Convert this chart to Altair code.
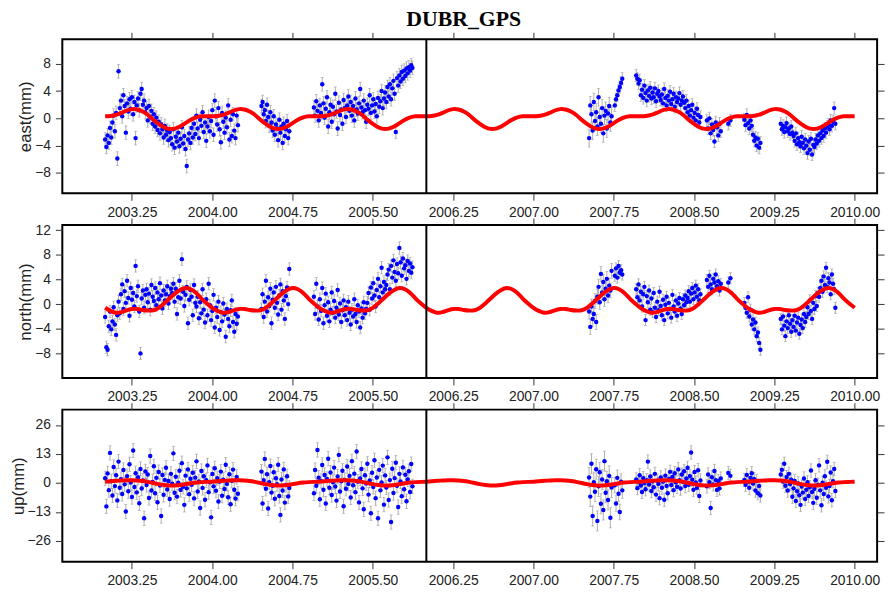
import altair as alt
import numpy as np
import pandas as pd

TITLE = "DUBR_GPS"
X_TICKS = [2003.25, 2004.00, 2004.75, 2005.50, 2006.25, 2007.00, 2007.75, 2008.50, 2009.25, 2010.00]
X_DOMAIN = [2002.60, 2010.21]
BREAK_EPOCH = [2006.0]

# observation segments (start, end) in decimal years
SEGMENTS = [(2003.00, 2004.24), (2004.46, 2004.72), (2004.95, 2005.87), (2007.52, 2007.73),
            (2007.76, 2007.83), (2007.96, 2008.56), (2008.62, 2008.75), (2008.82, 2008.84),
            (2008.97, 2009.12), (2009.31, 2009.82)]

# ---------------- EAST (mm) ----------------
EAST = [
    [-3.1, -4.2, -2.5, -3.6, -1.4, -2.8, -0.6, 0.4, -1.9, 0.8,
     -5.9, 6.9, 1.5, 2.6, 0.3, 3.4, 1.8, -2.1, 2.2, 1.0,
     2.8, 1.4, 3.1, 0.6, 2.4, -2.9, 1.9, 2.9, 1.2, 3.6,
     4.3, 2.0, 2.6, 0.9, 1.5, -0.3, 1.8, 0.2, 1.1, -0.8,
     0.6, -1.2, 0.1, -1.7, -0.5, -2.2, -0.9, -1.6, -2.8, -1.1,
     -2.4, -1.8, -3.2, -2.0, -2.9, -3.8, -1.6, -4.3, -2.7, -3.4,
     -2.1, -4.1, -3.0, -1.3, -3.7, -2.6, -4.5, -7.0, -3.1, -2.2,
     -3.6, -1.4, -2.8, -0.8, -2.3, 0.4, -1.5, -2.9, -0.2, -1.1,
     0.9, -2.0, -0.6, -3.3, -1.2, 0.2, -1.9, -0.4, 1.2, -2.4,
     2.6, 0.3, -0.9, 1.5, -1.6, -3.5, 0.8, -0.5, -2.1, 0.1,
     -1.3, 1.9, -3.1, -0.2, -2.6, 0.6, -1.8, -2.9, 0.4, -1.0],
    [1.8, 2.4, 0.6, 1.2, -0.4, 2.0, 0.2, -1.1, 0.9, -0.6, -1.8, 0.3, -2.4, -0.9, -1.5,
     -3.2, -0.2, -2.1, -1.2, -3.6, -0.8, -2.6, -1.6, -0.4, -2.9, -1.9],
    [1.6, 0.4, 2.5, 1.1, -0.3, 1.9, 0.8, 5.0, 2.2, 0.1,
     1.4, 3.1, -1.2, 0.9, 2.0, -0.5, 1.7, 0.6, 3.6, 1.0,
     -1.5, 2.3, 0.5, 1.3, -0.8, 2.7, 1.5, 0.2, 1.9, 3.2,
     1.1, 2.4, 0.4, 1.8, -0.3, 2.9, 1.3, 0.7, 2.2, 4.3,
     1.6, 0.9, 2.6, 1.2, -0.5, 2.0, 1.4, 3.4, 0.8, 1.9,
     2.8, 1.0, 2.1, 0.3, 3.0, 1.7, 2.5, 4.0, 1.5, 2.9,
     3.8, 2.4, 4.6, 3.2, 5.0, 2.8, 4.4, 5.5, 3.6, -2.0,
     5.9, 4.8, 6.3, 5.4, 6.8, 5.8, 7.0, 6.2, 7.3, 6.6,
     7.5, 7.0, 7.8, 7.4],
    [-2.9, 1.9, 0.6, -1.8, 2.4, -0.4, 0.9, -1.2, 3.1, 0.2, -0.8, 1.5, -2.2, 0.4, 1.1,
     -1.5, 0.7, 1.8, -0.6, 0.3],
    [1.9, 2.8, 3.4, 4.1, 4.6, 5.2, 5.8],
    [6.3, 5.8, 5.1, 5.6,
     3.4, 4.2, 3.0, 4.8, 3.7, 2.6, 4.1, 3.3, 4.5, 2.9, 3.8, 3.1, 4.4, 2.5, 3.6, 4.0, 3.2,
     2.7, 3.5, 2.2, 4.3, 3.0, 1.9, 3.3, 2.6, 3.9, 2.1, 2.8, 3.6, 1.7, 3.1, 2.4, 2.9, 3.7, 2.0, 2.6, 3.2,
     2.3, 1.5, 2.6, 0.9, 1.8, 0.4, 1.2, 2.0, 0.1, 0.8, -0.3, 1.4, 0.5, -0.6, 0.2],
    [-0.3, -1.5, 0.0, -2.2, -0.9, -1.7, -3.4, -0.6, -1.3, -2.5, -0.8, -1.9],
    [-0.8, -0.3],
    [-0.2, -1.0, 0.5, -0.7, -1.5, -0.3, -1.1, -2.4, -3.3, -2.8, -4.0, -3.0, -4.3, -3.6],
    [-0.8, -1.6, -1.1, -2.0, -1.3, -0.7, -1.9, -1.5, -2.3, -1.2, -2.1,
     -2.6, -3.3, -2.2, -3.8, -2.9, -3.5, -4.1, -2.7, -3.6, -4.4, -3.1, -4.0, -5.1, -3.4, -4.6, -3.0, -5.3, -3.9,
     -4.2, -3.1, -3.7, -2.5, -3.3, -2.2, -2.9, -1.8, -2.6, -1.5, -2.1, -1.2,
     -0.9, -1.6, -0.3, -1.1, -0.5, 1.5, -0.8],
]
EAST_SIGMA = [1.0, 1.0, 1.0, 1.3, 0.9, 0.9, 0.9, 0.9, 0.9, 0.9]

# ---------------- NORTH (mm) ----------------
NORTH = [
    [-2.1, -7.0, -7.4, -3.6, -1.2, -4.1, -2.8, -0.5, -3.3, -5.0, -1.8,
     0.4, -1.5, 1.6, 3.2, -0.8, 2.1, 0.2, 3.8, 1.0, -1.9, 2.6, 0.7, 1.8, -0.4, 6.2,
     1.3, 2.9, -1.2, -8.0, 0.9, 2.2, -0.6, 1.5,
     2.4, 0.3, 1.7, -0.9, 3.1, 1.2, 0.5, 2.6, -0.2, 1.9, 0.8, 3.4, 1.4, -0.7, 2.2, 0.6,
     1.6, 2.9, 0.1, 1.3, 2.5,
     1.8, 3.3, 0.4, 2.5, -1.6, 1.1, 3.8, 0.9, 7.3, 2.0, -0.3, 1.5, 2.8, -3.1, 0.7, 2.3,
     1.2, -1.8, 3.1, 0.2,
     -0.4, 1.2, -2.3, 0.3, -1.5, 2.4, -0.9, -3.0, 0.8, -1.8, 3.3, -0.2, -2.6, -1.1, 1.5,
     -3.8, -0.6, -2.1, 0.4, -4.2, -1.3, -2.8, 0.1, -1.7, -5.3, -0.8, -2.4, -3.6, -1.0, 0.6,
     -2.9, -4.5, -1.6, -3.2, -2.0],
    [-0.8, 1.6, -2.1, 0.4, 3.8, -1.2, 1.1, -0.3, 2.5, -3.1, 0.7, 1.9, -0.6, 2.8, 0.2,
     -1.7, 1.4, 3.2, -0.9, 2.1, 0.6, -2.4, 1.3, 2.7, 0.0, 5.7],
    [1.2, -1.6, 3.3, -0.4, -2.5, 0.8, -1.1, 2.6, -3.1, -0.2, 1.7, -1.9, 0.3, -2.8, -0.9,
     1.9, -1.4, 0.5, -2.2, -0.6, 2.3, -1.7, 0.1, -2.9, -1.0, 0.6,
     -1.8, -0.5, -2.6, 0.4, -1.4, -3.3, -0.9, -2.0, 0.8, -1.6, -2.9, -0.2, -1.2, -3.8, -0.7,
     -2.2, 0.3, -1.5, -0.8,
     0.2, 1.8, -0.9, 2.7, 0.9, 3.4, 1.4, -0.4, 2.3, 4.1, 1.1, 2.9, 5.9, 1.9, 3.6, 2.4,
     3.1, 4.8, 5.6, 2.4, 6.2, 4.3, 7.1, 5.2, 3.8, 6.5, 5.0, 9.1, 6.8, 4.6, 7.4, 5.8, 6.3,
     4.1, 7.0, 5.4, 6.6, 5.1, 6.0],
    [-1.2, -3.7, -0.4, -2.4, -1.6, 0.5, -2.9, 1.2, 2.8, 0.3, 4.9, 1.9, 3.6, 0.8, 2.5,
     4.1, 1.4, 3.0, 2.2, 5.4],
    [4.6, 5.8, 4.3, 6.2, 5.1, 5.5, 4.8],
    [2.4, 1.1, 3.2, 0.6, 2.0, -0.4, 1.6, 2.8, -2.6, 1.3, 0.3, 2.2, -0.9,
     0.9, -1.3, 1.8, -0.6, -2.1, 0.4, -1.0, 2.0, -0.3, -1.8, 0.7, -2.6, -0.1, 1.2, -1.5,
     0.2, -0.8, -2.2, 1.5, -0.4, -1.2, 0.6, -1.9, 0.1, 1.0, -0.7, -1.6, 0.8, -0.2, 1.4, 0.3,
     1.0, 2.1, 0.4, 1.7, 2.6, 0.8, 1.9, 3.0, 1.2, 2.4, 0.6, 1.6],
    [3.9, 2.8, 4.6, 3.2, 2.4, 4.1, 3.5, 4.8, 2.9, 3.7, 2.2, 3.3],
    [3.5, 4.2],
    [0.2, -0.6, -1.4, 1.1, -2.0, -0.9, -3.3, -2.5, -4.1, -3.0, -5.2, -4.6, -6.3, -7.4],
    [-2.4, -4.1, -2.0, -3.5, -5.2, -2.8, -3.9, -1.8, -3.2, -4.5, -2.6, -3.7, -1.9, -4.3,
     -3.0, -2.2, -4.8, -3.4, -2.5, -3.9, -1.6, -2.9,
     -2.1, -0.5, -1.6, 0.6, -1.1, -2.4, 0.2, -0.8, 1.3, -0.3, 1.8,
     1.2, 2.6, 3.8, 2.0, 4.5, 3.1, 5.9, 2.8, 4.2, 3.5, 1.6, 4.8, 3.3, 2.4, -0.6],
]
NORTH_SIGMA = [1.0, 1.0, 1.0, 1.2, 0.9, 0.9, 0.9, 0.9, 0.9, 0.9]

# ---------------- UP (mm) ----------------
UP = [
    [2.1, -10.5, 4.3, -3.2, 13.5, 0.8, -5.6, 7.2, -1.4, 3.5,
     -7.8, 9.6, -2.1, 1.7, -4.9, 5.8, -0.6, -12.8, 3.1, -3.7,
     8.4, 0.2, -6.3, 14.6, -1.8, 4.4, -4.2, 2.6, -9.1, 6.3,
     -2.5, 1.1, -15.8, 5.2, -0.9, 3.8, -6.7, 12.1, -3.4, 0.5,
     7.5, -4.6, 2.3, -8.6, 4.9, -1.1, -14.8, 3.6, -5.3, 1.4,
     6.8, -2.9, 0.9, -7.2, 4.1, -0.3, 13.3, -4.4, 2.8, -6.1,
     0.1, 5.5, -3.1, 8.9, -1.7, -9.8, 3.3, -2.4, 6.1, -5.0,
     1.9, -0.8, 4.6, -6.9, 2.4, 9.7, -3.8, 0.7, -11.2, 5.4,
     -2.2, 3.0, -7.5, 1.2, 7.9, -4.1, 0.3, -15.4, 4.0, -1.5,
     6.6, -3.5, 2.2, -8.3, 0.6, 5.1, -5.7, 1.5, -2.7, 8.2,
     -0.4, -6.4, 3.9, -9.5, 1.0, 6.0, -3.0, -7.0, 2.7, -4.8],
    [5.1, -9.2, 1.3, 10.8, -2.6, 3.9, -11.4, 0.4, 7.6, -4.3, -1.2, 4.8, -7.1, 2.1, -0.5,
     8.2, -5.8, -14.3, 1.6, -3.4, 6.1, -8.8, -0.9, 3.0, -6.0, -2.2],
    [-4.6, 5.8, -1.2, 14.8, 2.4, -7.3, 0.9, 8.1, -3.0, 3.6,
     -9.2, 1.8, 10.9, -2.1, 4.7, -5.4, 0.3, 6.9, -1.6, -7.9,
     2.9, 12.6, -3.8, 0.8, 5.5, -10.4, 1.4, -2.6, 7.4, -0.4,
     3.2, -6.5, 9.8, -1.0, 4.2, -4.1, 14.1, 0.6, -8.7, 2.0,
     6.3, -2.4, -11.8, 3.5, -0.2, 8.6, -5.2, 1.1, -13.6, 4.6,
     -1.8, 10.2, -6.8, 2.5, -15.8, 5.9, -3.3, 0.2, 7.8, -9.7,
     3.4, -2.0, 11.5, -7.6, 1.3, -17.5, 6.4, -4.5, 2.2, 9.1,
     -1.2, -10.8, 4.1, 0.7, -5.9, 7.0, -2.8, 3.7, -8.2, 1.6,
     5.3, -4.0, 8.5, -1.5],
    [2.5, -6.1, 8.6, -14.8, 0.4, -3.9, 6.2, -17.0, -1.5, 4.8, -9.3, 1.6, -12.1, 9.8, -4.4,
     0.8, -7.6, 3.2, -15.6, -2.0],
    [-1.0, -9.2, 2.3, -4.8, -13.0, 0.6, -3.3],
    [1.6, -2.3, 0.4, 3.5, -1.1, -4.0, 2.2, 0.0, -2.8, 1.3,
     9.6, -0.7, 2.9, -3.6, 0.8, -1.9, 4.1, -5.2, 1.0, -0.4,
     -6.8, 2.5, -2.1, 0.6, -7.5, 3.3, -1.3, -4.6, 1.8, 5.0,
     -0.9, 2.7, -3.2, 4.4, 0.3, -1.7, 6.1, 1.2, -2.5, 3.8,
     0.5, 5.3, -1.4, 2.0, 6.8, -0.8, 3.1, 13.7, 1.5, -3.0,
     4.9, 0.2, -2.2, 5.7, -5.8, 1.1],
    [-1.5, 3.8, 0.4, -11.2, 2.6, -0.6, 5.4, 1.3, -3.1, 0.8, -2.4, 2.0],
    [4.5, 3.2],
    [1.4, -0.8, 3.6, 0.5, -2.1, 2.3, 4.4, -0.2, 1.7, -3.4, 0.9, -4.6, -1.3, -5.6],
    [3.8, 5.9, 0.6, 8.6, -1.2, 2.7, -3.4, 4.1, -0.5, 1.5,
     -6.2, -2.4, 0.9, -8.1, -3.7, -0.2, -5.5, -9.8, -1.6, -4.3,
     2.0, -7.2, -3.0, 0.4, -5.8, -1.9, 5.6, -4.0, -8.9, -2.6,
     1.2, -6.6, -0.8, 7.9, -3.3, -10.0, 0.1, -4.9, 3.0, -2.1,
     9.5, -6.0, -1.4, 4.7, -7.7, 0.8, 6.3, -3.6],
]
UP_SIGMA = [3.2, 3.2, 3.2, 4.5, 3.5, 3.0, 3.0, 3.0, 3.0, 3.0]

# seasonal model, one-year profile read every 0.05 yr, drawn for 2003..2010
MODEL_YEARS = [2003, 2004, 2005, 2006, 2007, 2008, 2009]
PHASE = [0.00, 0.05, 0.10, 0.15, 0.20, 0.25, 0.30, 0.35, 0.40, 0.45,
         0.50, 0.55, 0.60, 0.65, 0.70, 0.75, 0.80, 0.85, 0.90, 0.95]
EAST_MODEL = [0.30, 0.35, 0.50, 0.80, 1.15, 1.35, 1.30, 1.00, 0.50, -0.20,
              -0.80, -1.30, -1.55, -1.50, -1.20, -0.70, -0.20, 0.15, 0.30, 0.30]
NORTH_MODEL = [-0.60, -1.10, -1.40, -1.30, -1.00, -0.80, -0.80, -0.95, -1.05, -1.00,
               -0.60, 0.10, 0.90, 1.70, 2.30, 2.60, 2.40, 1.80, 0.90, 0.10]
UP_MODEL = [0.60, 0.80, 1.00, 1.10, 1.20, 1.20, 1.10, 0.90, 0.50, 0.00,
            -0.50, -0.90, -1.10, -1.10, -0.90, -0.50, -0.10, 0.20, 0.40, 0.50]


def obs_frame(series, sigma):
    rows = []
    for (s, e), vals, sg in zip(SEGMENTS, series, sigma):
        ts = np.linspace(s, e, len(vals))
        for t, v in zip(ts, vals):
            rows.append({"t": float(t), "v": v, "lo": v - sg, "hi": v + sg})
    return pd.DataFrame(rows)


def model_frame(profile):
    rows = []
    for y in MODEL_YEARS:
        for p, v in zip(PHASE, profile):
            rows.append({"t": y + p, "v": v})
    rows.append({"t": MODEL_YEARS[-1] + 1.0, "v": profile[0]})
    return pd.DataFrame(rows)


def panel(series, sigma, profile, ytitle, ydomain, yticks, height):
    df = obs_frame(series, sigma)
    curve = model_frame(profile)
    xs = alt.Scale(domain=X_DOMAIN, nice=False, zero=False)
    ys = alt.Scale(domain=ydomain, nice=False, zero=False)
    bottom_axis = alt.Axis(values=X_TICKS, format=".2f", orient="bottom", title=None, labelFlush=False)
    top_axis = alt.Axis(values=X_TICKS, orient="top", labels=False, title=None)
    left_axis = alt.Axis(values=yticks, orient="left", title=ytitle, format="d")
    right_axis = alt.Axis(values=yticks, orient="right", labels=False, title=None)

    bars = alt.Chart(df).mark_rule(color="#9a9a9a", strokeWidth=0.8).encode(
        x=alt.X("t:Q", scale=xs, axis=None),
        y=alt.Y("lo:Q", scale=ys, axis=None),
        y2="hi:Q",
    )
    cap_lo = alt.Chart(df).mark_tick(color="#9a9a9a", size=3, thickness=0.8, orient="horizontal").encode(
        x=alt.X("t:Q", scale=xs, axis=None),
        y=alt.Y("lo:Q", scale=ys, axis=None),
    )
    cap_hi = alt.Chart(df).mark_tick(color="#9a9a9a", size=3, thickness=0.8, orient="horizontal").encode(
        x=alt.X("t:Q", scale=xs, axis=None),
        y=alt.Y("hi:Q", scale=ys, axis=right_axis),
    )
    pts = alt.Chart(df).mark_circle(color="#0000ff", size=20, opacity=1).encode(
        x=alt.X("t:Q", scale=xs, axis=bottom_axis),
        y=alt.Y("v:Q", scale=ys, axis=left_axis),
    )
    line = alt.Chart(curve).mark_line(color="#ff0000", strokeWidth=4, interpolate="natural").encode(
        x=alt.X("t:Q", scale=xs, axis=None),
        y=alt.Y("v:Q", scale=ys, axis=None),
    )
    brk = alt.Chart(pd.DataFrame({"t": BREAK_EPOCH})).mark_rule(color="black", strokeWidth=2).encode(
        x=alt.X("t:Q", scale=xs, axis=top_axis),
    )
    return alt.layer(bars, cap_lo, cap_hi, pts, line, brk).resolve_axis(
        x="independent", y="independent"
    ).properties(width=825, height=height)


p_east = panel(EAST, EAST_SIGMA, EAST_MODEL, "east(mm)", [-11.0, 11.6], [-8, -4, 0, 4, 8], 156)
p_north = panel(NORTH, NORTH_SIGMA, NORTH_MODEL, "north(mm)", [-12.0, 12.85], [-8, -4, 0, 4, 8, 12], 155)
p_up = panel(UP, UP_SIGMA, UP_MODEL, "up(mm)", [-35.3, 32.9], [-26, -13, 0, 13, 26], 154)

chart = alt.vconcat(p_east, p_north, p_up, spacing=32, bounds="flush").properties(
    title=alt.TitleParams(text=TITLE, font="Liberation Serif", fontSize=22, fontWeight="bold",
                          anchor="middle", offset=-3, dy=-3, dx=17, color="black"),
    padding={"left": 0, "top": -4, "right": 0, "bottom": 0},
).configure_view(
    stroke="black", strokeWidth=2
).configure_axis(
    grid=False, domain=False, tickColor="#333333", tickSize=7, tickWidth=1,
    labelFont="Liberation Sans", labelFontSize=14, labelColor="#222222", labelPadding=5,
    titleFont="Liberation Sans", titleFontSize=17, titleFontWeight="normal", titleColor="#222222",
    titlePadding=0,
)

chart.save("out.html", embed_options={"renderer": "svg", "actions": False})
